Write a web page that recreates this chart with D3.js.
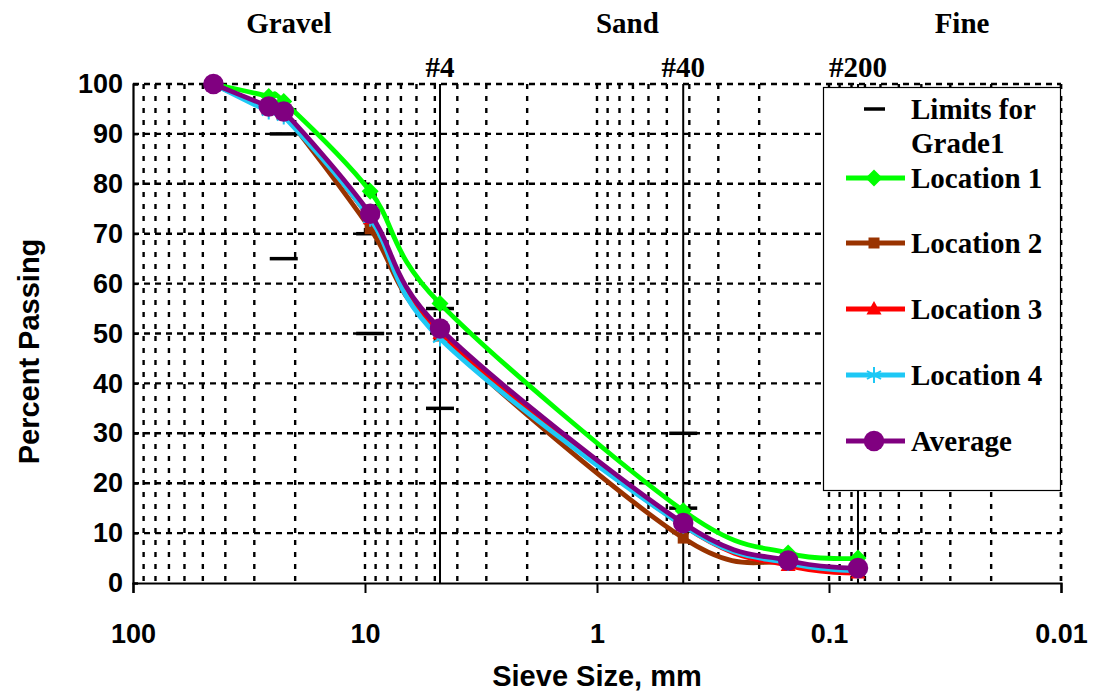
<!DOCTYPE html>
<html><head><meta charset="utf-8">
<script src="https://cdnjs.cloudflare.com/ajax/libs/d3/7.8.5/d3.min.js"></script>
<style>
html,body{margin:0;padding:0;background:#fff;}
svg{display:block;}
</style></head>
<body>
<svg id="chart" width="1095" height="693"></svg>
<script>
// ---------- data ----------
const sieveSizes = [45, 26, 22.4, 9.5, 4.75, 0.425, 0.15, 0.075];
const location1 = [100, 97.5, 96.5, 78.5, 56, 14.5, 6, 5];
const location2 = [100, 95, 94, 71, 49.5, 9, 4, 2.5];
const location3 = [100, 95, 94, 73, 50, 11.5, 3.5, 2];
const location4 = [100, 94.5, 93.5, 73, 49, 11.5, 4, 2.5];
const average   = [100, 95.5, 94.5, 74, 51, 12, 4.5, 3];
const limitSizes  = [22.4, 22.4, 9.5, 9.5, 4.75, 4.75, 0.425, 0.425];
const limitValues = [90, 65, 70, 50, 55, 35, 30, 15];
const sieveLabels = ["#4", "#40", "#200"];
const sieveMarkSizes = [4.75, 0.425, 0.075];
const zoneLabels = ["Gravel", "Sand", "Fine"];
const zoneCenters = [21.3, 0.74, 0.0267];
const xTickValues = [100, 10, 1, 0.1, 0.01];
const xTickLabels = ["100", "10", "1", "0.1", "0.01"];
const yTickValues = [0, 10, 20, 30, 40, 50, 60, 70, 80, 90, 100];
const seriesNames = ["Location 1", "Location 2", "Location 3", "Location 4", "Average"];
const seriesColors = ["#00ff00", "#993300", "#ff0000", "#1ec8f5", "#800080"];
const seriesMarkers = ["diamond", "square", "triangle", "asterisk", "circle"];

// ---------- layout ----------
const svg = d3.select("#chart");
const L = 133, R = 1061, T = 84, B = 583;
const x = d3.scaleLog().domain([100, 0.01]).range([L, R]);
const y = d3.scaleLinear().domain([0, 100]).range([B, T]);
const serif = "'Liberation Serif','Times New Roman',serif";
const sans = "'Liberation Sans',Arial,sans-serif";

// grid: vertical dotted
const gridX = [];
for (let e = 1; e >= -2; e--) {
  for (let k = 1; k <= 9; k++) {
    const v = k * Math.pow(10, e);
    if (v < 100 && v >= 0.01) gridX.push(v);
  }
}
gridX.push(0.01);
const g = svg.append("g");
g.selectAll("line.vg").data(gridX).join("line")
  .attr("x1", d => x(d)).attr("x2", d => x(d))
  .attr("y1", T).attr("y2", B)
  .attr("stroke", "#000").attr("stroke-width", 2.4)
  .attr("stroke-dasharray", "5,7");
// horizontal dashed
g.selectAll("line.hg").data(yTickValues.filter(v => v > 0)).join("line")
  .attr("x1", L).attr("x2", R)
  .attr("y1", d => y(d)).attr("y2", d => y(d))
  .attr("stroke", "#000").attr("stroke-width", 2.4)
  .attr("stroke-dasharray", "6,5");

// solid sieve lines
g.selectAll("line.sv").data(sieveMarkSizes).join("line")
  .attr("x1", d => x(d)).attr("x2", d => x(d))
  .attr("y1", T).attr("y2", B)
  .attr("stroke", "#000").attr("stroke-width", 2);

// axes
const xAxis = d3.axisBottom(x).tickValues(xTickValues).tickFormat((d, i) => xTickLabels[i]).tickSize(10).tickPadding(31);
const xa = svg.append("g").attr("transform", `translate(0,${B})`).call(xAxis);
xa.select(".domain").attr("stroke-width", 2.2);
xa.selectAll(".tick line").attr("stroke-width", 2);
xa.selectAll("text").attr("font-family", sans).attr("font-weight", "bold").attr("font-size", 27).attr("fill", "#000");

const yAxis = d3.axisLeft(y).tickValues(yTickValues).tickSize(-5).tickPadding(10);
const ya = svg.append("g").attr("transform", `translate(${L},0)`).call(yAxis);
ya.select(".domain").attr("stroke-width", 2.2);
ya.selectAll(".tick line").attr("stroke-width", 2);
ya.selectAll("text").attr("font-family", sans).attr("font-weight", "bold").attr("font-size", 27).attr("fill", "#000");

// axis titles
svg.append("text").attr("x", (L + R) / 2).attr("y", 686).attr("text-anchor", "middle")
  .attr("font-family", sans).attr("font-weight", "bold").attr("font-size", 29).text("Sieve Size, mm");
svg.append("text").attr("transform", `translate(39,${(T + B) / 2 + 18}) rotate(-90)`).attr("text-anchor", "middle")
  .attr("font-family", sans).attr("font-weight", "bold").attr("font-size", 29).text("Percent Passing");

// zone labels & sieve labels
svg.selectAll("text.zone").data(zoneLabels).join("text")
  .attr("x", (d, i) => x(zoneCenters[i])).attr("y", 33).attr("text-anchor", "middle")
  .attr("font-family", serif).attr("font-weight", "bold").attr("font-size", 29).text(d => d);
svg.selectAll("text.sieve").data(sieveLabels).join("text")
  .attr("x", (d, i) => x(sieveMarkSizes[i])).attr("y", 77).attr("text-anchor", "middle")
  .attr("font-family", serif).attr("font-weight", "bold").attr("font-size", 29).text(d => d);

// limits
svg.selectAll("line.lim").data(limitValues).join("line")
  .attr("x1", (d, i) => x(limitSizes[i]) - 14).attr("x2", (d, i) => x(limitSizes[i]) + 14)
  .attr("y1", d => y(d)).attr("y2", d => y(d))
  .attr("stroke", "#000").attr("stroke-width", 3.5);

// markers
function markerPath(type) {
  switch (type) {
    case "diamond": return "M0,-8.5L8.5,0L0,8.5L-8.5,0Z";
    case "square": return "M-5.5,-5.5H5.5V5.5H-5.5Z";
    case "triangle": return "M0,-8L7.5,5.5H-7.5Z";
    case "asterisk": return "M0,-8V8M-7,-4L7,4M-7,4L7,-4";
    case "circle": return d3.symbol(d3.symbolCircle, 330)();
  }
}
const allSeries = [location1, location2, location3, location4, average];
const line = d3.line().x((d, i) => x(sieveSizes[i])).y(d => y(d)).curve(d3.curveCardinal.tension(0));
allSeries.forEach((vals, si) => {
  const col = seriesColors[si];
  const sg = svg.append("g");
  sg.append("path").attr("d", line(vals)).attr("fill", "none")
    .attr("stroke", col).attr("stroke-width", 4.8).attr("stroke-linejoin", "round");
  sg.selectAll("path.m").data(vals).join("path")
    .attr("transform", (d, i) => `translate(${x(sieveSizes[i])},${y(d)})`)
    .attr("d", markerPath(seriesMarkers[si]))
    .attr("fill", seriesMarkers[si] === "asterisk" ? "none" : col)
    .attr("stroke", col).attr("stroke-width", seriesMarkers[si] === "asterisk" ? 2 : 0);
});

// legend
const lg = svg.append("g");
lg.append("rect").attr("x", 823.5).attr("y", 87.5).attr("width", 237).attr("height", 403)
  .attr("fill", "#fff").attr("stroke", "#000").attr("stroke-width", 1.2);
lg.append("line").attr("x1", 864).attr("x2", 885).attr("y1", 109).attr("y2", 109)
  .attr("stroke", "#000").attr("stroke-width", 3.5);
lg.append("text").attr("x", 911).attr("y", 119).attr("font-family", serif).attr("font-weight", "bold")
  .attr("font-size", 29).text("Limits for");
lg.append("text").attr("x", 911).attr("y", 153).attr("font-family", serif).attr("font-weight", "bold")
  .attr("font-size", 29).text("Grade1");
const legendY = [178, 243, 309, 375, 441];
seriesNames.forEach((name, si) => {
  const yy = legendY[si];
  const col = seriesColors[si];
  lg.append("line").attr("x1", 846).attr("x2", 905).attr("y1", yy).attr("y2", yy)
    .attr("stroke", col).attr("stroke-width", 4.8);
  lg.append("path").attr("transform", `translate(874,${yy})`).attr("d", markerPath(seriesMarkers[si]))
    .attr("fill", seriesMarkers[si] === "asterisk" ? "none" : col)
    .attr("stroke", col).attr("stroke-width", seriesMarkers[si] === "asterisk" ? 2 : 0);
  lg.append("text").attr("x", 911).attr("y", yy + 10).attr("font-family", serif).attr("font-weight", "bold")
    .attr("font-size", 29).text(name);
});
</script>
</body></html>
